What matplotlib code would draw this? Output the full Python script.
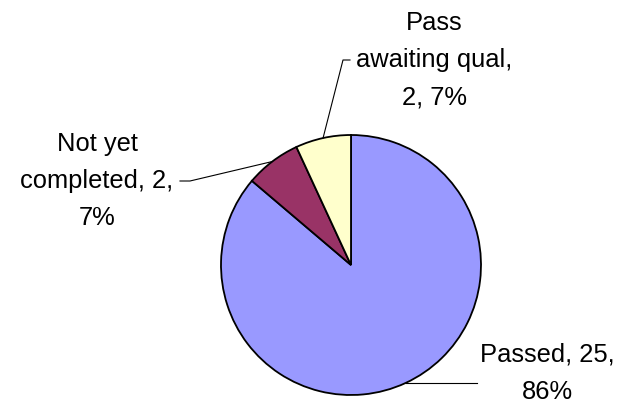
import numpy as np
import matplotlib.pyplot as plt

plt.rcParams['font.family'] = ['Liberation Sans', 'DejaVu Sans']

# データ
labels = ['Passed', 'Not yet completed', 'Pass awaiting qual']
counts = [25, 2, 2]
pcts = ['86%', '7%', '7%']
colors = ['#9999FF', '#993366', '#FFFFCC']

# ラベルの文字列（元図の改行位置に合わせる）
label_texts = ['Passed, 25,\n86%',
               'Not yet\ncompleted, 2,\n7%',
               'Pass\nawaiting qual,\n2, 7%']

W, H = 622, 405
fig = plt.figure(figsize=(W / 100, H / 100), dpi=100)
ax = fig.add_axes([0, 0, 1, 1])

cx, cy, r = 351, H - 265, 130
wedges, _ = ax.pie(counts, colors=colors, startangle=90, counterclock=False,
                   center=(cx, cy), radius=r, frame=True,
                   wedgeprops=dict(edgecolor='black', linewidth=1.3))
ax.set_xlim(0, W)
ax.set_ylim(0, H)
ax.set_aspect('equal')
ax.axis('off')

# ラベル位置（テキスト中心）と引き出し線の折れ点
text_pos = [(547, H - 373), (97, H - 181), (434, H - 60)]
elbow = [(477, None), (190, H - 181), (343, H - 60)]
line_end_x = [477, 180, 350]

for w, txt, tp, eb, lx in zip(wedges, label_texts, text_pos, elbow, line_end_x):
    ang = np.deg2rad((w.theta1 + w.theta2) / 2)
    px, py = cx + r * np.cos(ang), cy + r * np.sin(ang)
    if eb[1] is None:
        # 水平線のみ
        xs, ys = [px, lx], [py, py]
    else:
        xs, ys = [px, eb[0], lx], [py, eb[1], eb[1]]
    ax.plot(xs, ys, color='black', linewidth=0.8)
    ax.text(tp[0], tp[1], txt, ha='center', va='center', fontsize=18.4,
            linespacing=1.69)

fig.savefig('out.png', dpi=100)
